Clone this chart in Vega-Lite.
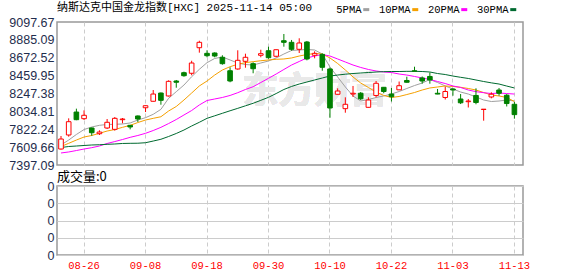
{
  "$schema": "https://vega.github.io/schema/vega-lite/v6.json",
  "padding": {"left": 0, "top": 1, "right": 0, "bottom": 0},
  "background": "white",
  "spacing": 21,
  "bounds": "flush",
  "config": {
    "view": {"stroke": "#999999", "strokeWidth": 1.5},
    "axis": {"labelFont": "Liberation Sans", "labelFontSize": 12.5, "labelColor": "#1f2d4d", "ticks": false, "domain": false, "title": null, "gridColor": "#cccccc", "gridWidth": 1, "labelOverlap": false}
  },
  "data": {"values": [
    {"d":"08-21","o":7587,"h":7742,"l":7580,"c":7706,"vol":0,"5PMA":7635,"10PMA":7617,"20PMA":7540,"30PMA":7605},
    {"d":"08-22","o":7754,"h":7952,"l":7734,"c":7912,"vol":0,"5PMA":7694,"10PMA":7655,"20PMA":7552,"30PMA":7617},
    {"d":"08-25","o":8027,"h":8067,"l":7930,"c":7936,"vol":0,"5PMA":7760,"10PMA":7694,"20PMA":7569,"30PMA":7623},
    {"d":"08-26","o":7948,"h":8047,"l":7932,"c":7988,"vol":0,"5PMA":7819,"10PMA":7730,"20PMA":7587,"30PMA":7629},
    {"d":"08-27","o":7837,"h":7843,"l":7745,"c":7781,"vol":0,"5PMA":7849,"10PMA":7748,"20PMA":7603,"30PMA":7635},
    {"d":"08-28","o":7769,"h":7810,"l":7754,"c":7789,"vol":0,"5PMA":7869,"10PMA":7774,"20PMA":7623,"30PMA":7638},
    {"d":"08-29","o":7837,"h":7944,"l":7825,"c":7905,"vol":0,"5PMA":7879,"10PMA":7801,"20PMA":7653,"30PMA":7643},
    {"d":"09-02","o":7821,"h":7968,"l":7805,"c":7952,"vol":0,"5PMA":7881,"10PMA":7819,"20PMA":7676,"30PMA":7647},
    {"d":"09-03","o":7936,"h":7956,"l":7893,"c":7944,"vol":0,"5PMA":7885,"10PMA":7845,"20PMA":7700,"30PMA":7653},
    {"d":"09-04","o":7869,"h":7873,"l":7821,"c":7849,"vol":0,"5PMA":7897,"10PMA":7869,"20PMA":7726,"30PMA":7655},
    {"d":"09-05","o":7980,"h":7986,"l":7909,"c":7944,"vol":0,"5PMA":7932,"10PMA":7902,"20PMA":7748,"30PMA":7656},
    {"d":"09-08","o":8078,"h":8105,"l":8027,"c":8102,"vol":0,"5PMA":7960,"10PMA":7932,"20PMA":7774,"30PMA":7662},
    {"d":"09-09","o":8155,"h":8289,"l":8152,"c":8241,"vol":0,"5PMA":8000,"10PMA":7952,"20PMA":7807,"30PMA":7682},
    {"d":"09-10","o":8253,"h":8259,"l":8114,"c":8166,"vol":0,"5PMA":8059,"10PMA":7971,"20PMA":7845,"30PMA":7703},
    {"d":"09-11","o":8218,"h":8404,"l":8212,"c":8392,"vol":0,"5PMA":8190,"10PMA":8039,"20PMA":7890,"30PMA":7736},
    {"d":"09-12","o":8396,"h":8408,"l":8316,"c":8381,"vol":0,"5PMA":8269,"10PMA":8093,"20PMA":7938,"30PMA":7772},
    {"d":"09-15","o":8495,"h":8507,"l":8447,"c":8459,"vol":0,"5PMA":8348,"10PMA":8170,"20PMA":7992,"30PMA":7813},
    {"d":"09-16","o":8488,"h":8637,"l":8464,"c":8610,"vol":0,"5PMA":8447,"10PMA":8253,"20PMA":8045,"30PMA":7861},
    {"d":"09-17","o":8792,"h":8875,"l":8733,"c":8856,"vol":0,"5PMA":8535,"10PMA":8337,"20PMA":8111,"30PMA":7905},
    {"d":"09-18","o":8725,"h":8761,"l":8678,"c":8697,"vol":0,"5PMA":8614,"10PMA":8396,"20PMA":8164,"30PMA":7952},
    {"d":"09-19","o":8729,"h":8737,"l":8678,"c":8693,"vol":0,"5PMA":8664,"10PMA":8467,"20PMA":8182,"30PMA":7982},
    {"d":"09-22","o":8678,"h":8702,"l":8590,"c":8602,"vol":0,"5PMA":8681,"10PMA":8527,"20PMA":8200,"30PMA":8012},
    {"d":"09-23","o":8518,"h":8559,"l":8381,"c":8396,"vol":0,"5PMA":8646,"10PMA":8566,"20PMA":8224,"30PMA":8042},
    {"d":"09-24","o":8539,"h":8761,"l":8530,"c":8642,"vol":0,"5PMA":8610,"10PMA":8595,"20PMA":8257,"30PMA":8071},
    {"d":"09-25","o":8630,"h":8721,"l":8554,"c":8678,"vol":0,"5PMA":8592,"10PMA":8614,"20PMA":8295,"30PMA":8101},
    {"d":"09-26","o":8602,"h":8618,"l":8488,"c":8542,"vol":0,"5PMA":8586,"10PMA":8626,"20PMA":8328,"30PMA":8131},
    {"d":"09-29","o":8702,"h":8768,"l":8678,"c":8721,"vol":0,"5PMA":8610,"10PMA":8637,"20PMA":8378,"30PMA":8166},
    {"d":"09-30","o":8756,"h":8804,"l":8661,"c":8673,"vol":0,"5PMA":8634,"10PMA":8646,"20PMA":8428,"30PMA":8202},
    {"d":"10-01","o":8690,"h":8771,"l":8678,"c":8768,"vol":0,"5PMA":8670,"10PMA":8654,"20PMA":8479,"30PMA":8247},
    {"d":"10-02","o":8875,"h":8955,"l":8804,"c":8856,"vol":0,"5PMA":8717,"10PMA":8658,"20PMA":8533,"30PMA":8295},
    {"d":"10-03","o":8856,"h":8884,"l":8756,"c":8773,"vol":0,"5PMA":8759,"10PMA":8670,"20PMA":8586,"30PMA":8331},
    {"d":"10-06","o":8773,"h":8904,"l":8729,"c":8848,"vol":0,"5PMA":8765,"10PMA":8693,"20PMA":8628,"30PMA":8360},
    {"d":"10-07","o":8860,"h":8872,"l":8642,"c":8658,"vol":0,"5PMA":8771,"10PMA":8711,"20PMA":8670,"30PMA":8384},
    {"d":"10-08","o":8702,"h":8749,"l":8666,"c":8725,"vol":0,"5PMA":8765,"10PMA":8723,"20PMA":8693,"30PMA":8408},
    {"d":"10-09","o":8713,"h":8725,"l":8518,"c":8559,"vol":0,"5PMA":8717,"10PMA":8717,"20PMA":8711,"30PMA":8432},
    {"d":"10-10","o":8539,"h":8554,"l":7959,"c":8075,"vol":0,"5PMA":8562,"10PMA":8670,"20PMA":8693,"30PMA":8455},
    {"d":"10-13","o":8238,"h":8309,"l":8235,"c":8277,"vol":0,"5PMA":8444,"10PMA":8604,"20PMA":8658,"30PMA":8467},
    {"d":"10-14","o":8067,"h":8202,"l":8019,"c":8119,"vol":0,"5PMA":8325,"10PMA":8527,"20PMA":8622,"30PMA":8477},
    {"d":"10-15","o":8241,"h":8337,"l":8206,"c":8250,"vol":0,"5PMA":8218,"10PMA":8444,"20PMA":8586,"30PMA":8485},
    {"d":"10-16","o":8251,"h":8265,"l":8170,"c":8185,"vol":0,"5PMA":8158,"10PMA":8372,"20PMA":8557,"30PMA":8491},
    {"d":"10-17","o":8083,"h":8202,"l":8081,"c":8170,"vol":0,"5PMA":8176,"10PMA":8319,"20PMA":8533,"30PMA":8497},
    {"d":"10-20","o":8224,"h":8396,"l":8202,"c":8369,"vol":0,"5PMA":8200,"10PMA":8265,"20PMA":8515,"30PMA":8503},
    {"d":"10-21","o":8321,"h":8325,"l":8250,"c":8271,"vol":0,"5PMA":8218,"10PMA":8224,"20PMA":8503,"30PMA":8507},
    {"d":"10-22","o":8241,"h":8313,"l":8152,"c":8209,"vol":0,"5PMA":8241,"10PMA":8200,"20PMA":8497,"30PMA":8509},
    {"d":"10-23","o":8291,"h":8390,"l":8289,"c":8340,"vol":0,"5PMA":8271,"10PMA":8212,"20PMA":8479,"30PMA":8509},
    {"d":"10-24","o":8402,"h":8447,"l":8378,"c":8381,"vol":0,"5PMA":8307,"10PMA":8235,"20PMA":8467,"30PMA":8511},
    {"d":"10-27","o":8517,"h":8566,"l":8513,"c":8513,"vol":0,"5PMA":8342,"10PMA":8259,"20PMA":8450,"30PMA":8511},
    {"d":"10-28","o":8432,"h":8450,"l":8364,"c":8396,"vol":0,"5PMA":8372,"10PMA":8289,"20PMA":8432,"30PMA":8509},
    {"d":"10-29","o":8450,"h":8497,"l":8364,"c":8408,"vol":0,"5PMA":8414,"10PMA":8313,"20PMA":8414,"30PMA":8503},
    {"d":"10-30","o":8250,"h":8301,"l":8239,"c":8241,"vol":0,"5PMA":8378,"10PMA":8325,"20PMA":8390,"30PMA":8485},
    {"d":"10-31","o":8200,"h":8329,"l":8176,"c":8271,"vol":0,"5PMA":8337,"10PMA":8337,"20PMA":8366,"30PMA":8473},
    {"d":"11-03","o":8301,"h":8309,"l":8221,"c":8289,"vol":0,"5PMA":8301,"10PMA":8331,"20PMA":8337,"30PMA":8455},
    {"d":"11-04","o":8182,"h":8241,"l":8122,"c":8137,"vol":0,"5PMA":8265,"10PMA":8321,"20PMA":8319,"30PMA":8440},
    {"d":"11-05","o":8150,"h":8182,"l":8081,"c":8158,"vol":0,"5PMA":8241,"10PMA":8307,"20PMA":8289,"30PMA":8426},
    {"d":"11-06","o":8224,"h":8309,"l":8119,"c":8140,"vol":0,"5PMA":8206,"10PMA":8289,"20PMA":8269,"30PMA":8408},
    {"d":"11-07","o":8057,"h":8061,"l":7924,"c":8061,"vol":0,"5PMA":8170,"10PMA":8259,"20PMA":8257,"30PMA":8390},
    {"d":"11-10","o":8206,"h":8262,"l":8190,"c":8239,"vol":0,"5PMA":8152,"10PMA":8230,"20PMA":8247,"30PMA":8374},
    {"d":"11-11","o":8289,"h":8313,"l":8221,"c":8250,"vol":0,"5PMA":8158,"10PMA":8218,"20PMA":8253,"30PMA":8360},
    {"d":"11-12","o":8227,"h":8241,"l":8093,"c":8128,"vol":0,"5PMA":8170,"10PMA":8200,"20PMA":8247,"30PMA":8336},
    {"d":"11-13","o":8119,"h":8146,"l":7948,"c":7996,"vol":0,"5PMA":8158,"10PMA":8152,"20PMA":8241,"30PMA":8313}
  ]},
  "vconcat": [
    {
      "width": 466,
      "height": 143,
      "title": {"text": "纳斯达克中国金龙指数[HXC] 2025-11-14 05:00", "anchor": "start", "frame": "group", "font": "Liberation Mono, Noto Sans CJK SC", "fontSize": 11, "fontWeight": "normal", "color": "#000000", "offset": 3},
      "encoding": {
        "x": {"field": "d", "type": "ordinal", "scale": {"type": "band", "paddingInner": 0.4, "paddingOuter": 0.52, "align": 0.213},
          "axis": {"values": ["08-26","09-08","09-18","09-30","10-10","10-22","11-03","11-13"], "labels": false, "grid": true, "gridDash": [4, 3], "bandPosition": 0.5, "title": null}}
      },
      "layer": [
        {
          "mark": {"type": "text", "text": "东方财富", "font": "Noto Sans CJK SC", "fontSize": 36, "fontWeight": "bold", "fill": "#e9e9e9"},
          "encoding": {"x": {"datum": "10-08"}, "y": {"datum": 8265, "type": "quantitative", "scale": {"domain": [7397.09, 9097.67], "nice": false, "zero": false}, "axis": {"values": [7397.09, 7609.66, 7822.24, 8034.81, 8247.38, 8459.95, 8672.52, 8885.09, 9097.67], "format": ".2f", "labelPadding": 3, "labelOverlap": false, "labelSeparation": 0, "minExtent": 56, "maxExtent": 56, "title": null}}}
        },
        {
          "transform": [{"fold": ["5PMA", "10PMA", "20PMA", "30PMA"], "as": ["s", "v"]}],
          "mark": {"type": "line", "strokeWidth": 1},
          "encoding": {
            "y": {"field": "v", "type": "quantitative", "scale": {"domain": [7397.09, 9097.67], "nice": false, "zero": false},
              "axis": {"values": [7397.09, 7609.66, 7822.24, 8034.81, 8247.38, 8459.95, 8672.52, 8885.09, 9097.67], "format": ".2f", "labelPadding": 3, "labelOverlap": false, "labelSeparation": 0, "minExtent": 56, "maxExtent": 56, "title": null}},
            "color": {"field": "s", "type": "nominal", "scale": {"domain": ["5PMA", "10PMA", "20PMA", "30PMA"], "range": ["#a0a0a0", "#f5a000", "#ff00ff", "#006a30"]},
              "legend": {"orient": "none", "legendX": 304, "legendY": -18, "direction": "horizontal", "title": null, "padding": 0, "labelFont": "Liberation Mono", "labelFontSize": 10.5, "labelColor": "#000000", "symbolType": "stroke", "symbolSize": 36, "symbolStrokeWidth": 3, "labelAlign": "right", "labelOffset": -10, "columnPadding": 2}}
          }
        },
        {
          "mark": {"type": "rule", "strokeWidth": 1},
          "encoding": {
            "y": {"field": "l", "type": "quantitative", "scale": {"domain": [7397.09, 9097.67], "nice": false, "zero": false}, "axis": {"values": [7397.09, 7609.66, 7822.24, 8034.81, 8247.38, 8459.95, 8672.52, 8885.09, 9097.67], "format": ".2f", "labelPadding": 3, "labelOverlap": false, "labelSeparation": 0, "minExtent": 56, "maxExtent": 56, "title": null}},
            "y2": {"field": "h"},
            "color": {"condition": {"test": "datum.c >= datum.o", "value": "#ff0000"}, "value": "#008000"}
          }
        },
        {
          "mark": {"type": "bar", "strokeWidth": 1},
          "encoding": {
            "y": {"field": "o", "type": "quantitative", "scale": {"domain": [7397.09, 9097.67], "nice": false, "zero": false}, "axis": {"values": [7397.09, 7609.66, 7822.24, 8034.81, 8247.38, 8459.95, 8672.52, 8885.09, 9097.67], "format": ".2f", "labelPadding": 3, "labelOverlap": false, "labelSeparation": 0, "minExtent": 56, "maxExtent": 56, "title": null}},
            "y2": {"field": "c"},
            "fill": {"condition": {"test": "datum.c >= datum.o", "value": "#ffffff"}, "value": "#008000"},
            "stroke": {"condition": {"test": "datum.c >= datum.o", "value": "#ff0000"}, "value": "#008000"}
          }
        }
      ]
    },
    {
      "width": 466,
      "height": 69,
      "title": {"text": "成交量:0", "anchor": "start", "frame": "group", "font": "Noto Sans CJK SC", "fontSize": 13, "fontWeight": "normal", "color": "#000000", "offset": -4},
      "mark": {"type": "bar"},
      "encoding": {
        "x": {"field": "d", "type": "ordinal", "scale": {"type": "band", "paddingInner": 0.4, "paddingOuter": 0.52, "align": 0.213},
          "axis": {"values": ["08-26","09-08","09-18","09-30","10-10","10-22","11-03","11-13"], "labelAngle": 0, "labelFont": "Liberation Mono", "labelFontSize": 10.5, "labelColor": "#ff0000", "labelPadding": 5, "labelOverlap": false, "grid": true, "gridDash": [4, 3], "bandPosition": 0.5, "title": null}},
        "y": {"field": "vol", "type": "quantitative", "scale": {"domain": [0, 4], "nice": false},
          "axis": {"values": [0, 1, 2, 3, 4], "labelExpr": "'0'", "labelPadding": 3, "labelOverlap": false, "minExtent": 56, "maxExtent": 56, "title": null}},
        "color": {"value": "#008000"}
      }
    }
  ]
}
